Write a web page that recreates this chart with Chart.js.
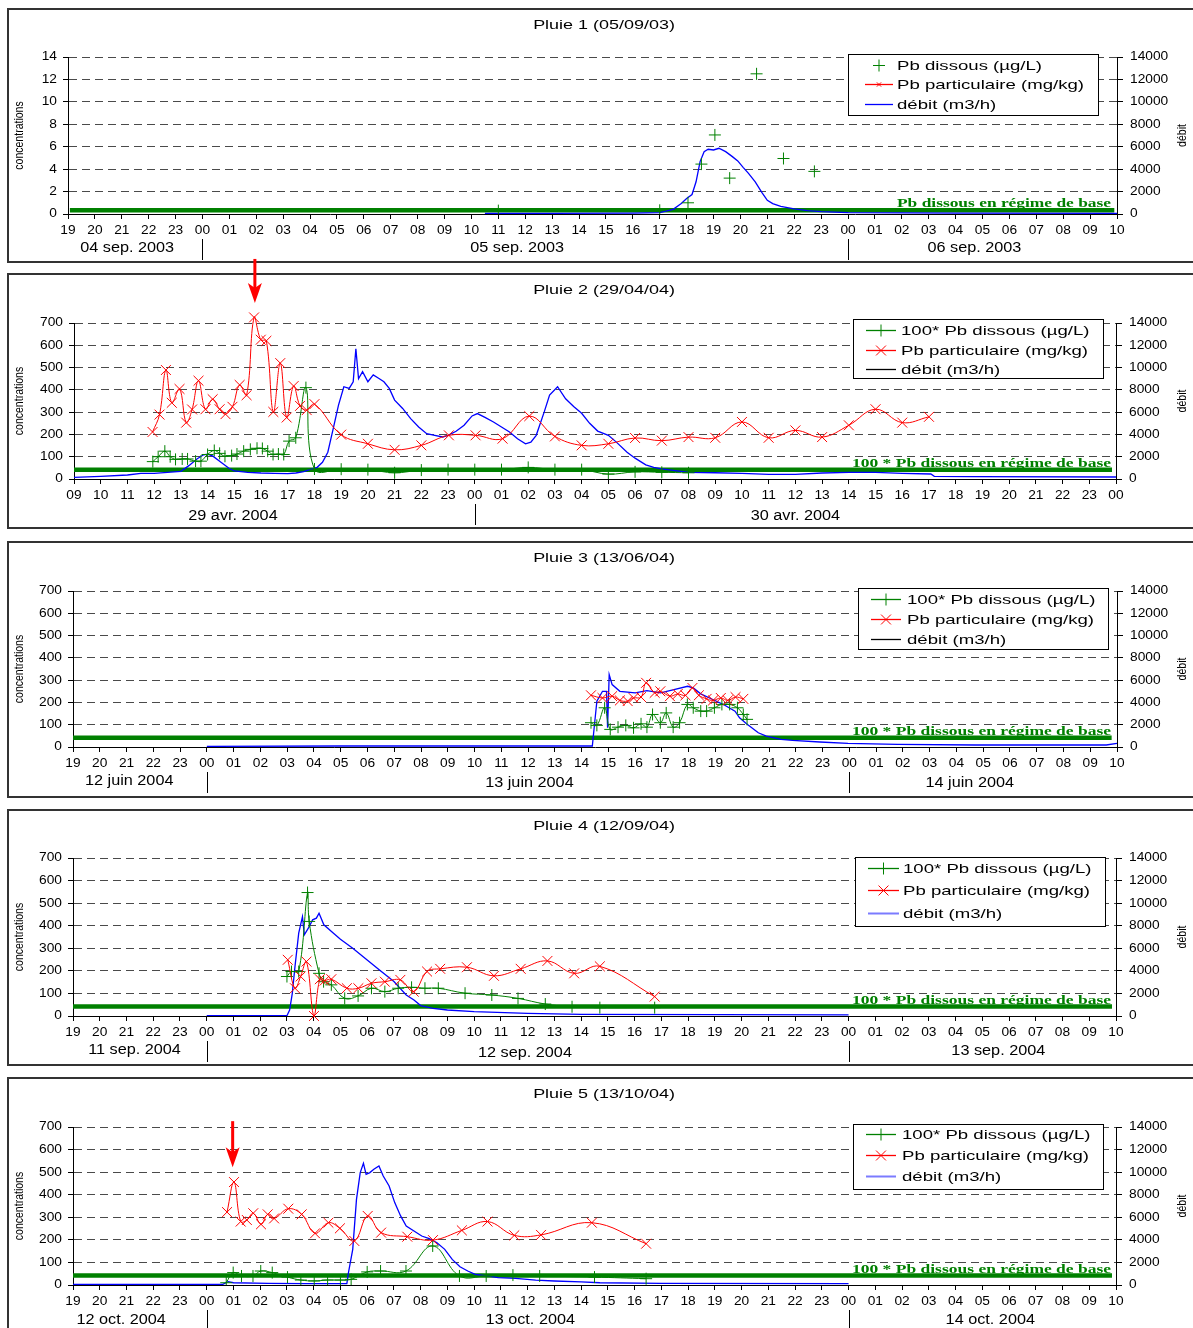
<!DOCTYPE html>
<html><head><meta charset="utf-8">
<script src="https://cdn.jsdelivr.net/npm/chart.js@4/dist/chart.umd.min.js"></script>
<style>
html,body{margin:0;padding:0;background:#fff;overflow:hidden;width:1193px;height:1328px;position:relative;}
.panel{position:absolute;left:7px;width:1200px;border:2px solid #333;box-sizing:border-box;}
canvas{position:absolute;left:0;}
</style></head><body>
<script>
// ---------- tick labels ----------
const hoursFrom19 = ['19','20','21','22','23','00','01','02','03','04','05','06','07','08','09','10','11','12','13','14','15','16','17','18','19','20','21','22','23','00','01','02','03','04','05','06','07','08','09','10'];
const hoursFrom09 = ['09','10','11','12','13','14','15','16','17','18','19','20','21','22','23','00','01','02','03','04','05','06','07','08','09','10','11','12','13','14','15','16','17','18','19','20','21','22','23','00'];
const concTicks14 = [0,2,4,6,8,10,12,14];
const concTicks700 = [0,100,200,300,400,500,600,700];
const debitTicks = [0,2000,4000,6000,8000,10000,12000,14000];

// ---------- texts ----------
const titles = ['Pluie 1 (05/09/03)','Pluie 2 (29/04/04)','Pluie 3 (13/06/04)','Pluie 4 (12/09/04)','Pluie 5 (13/10/04)'];
const dateLabels = [
  ['04 sep. 2003','05 sep. 2003','06 sep. 2003'],
  ['29 avr. 2004','30 avr. 2004'],
  ['12 juin 2004','13 juin 2004','14 juin 2004'],
  ['11 sep. 2004','12 sep. 2004','13 sep. 2004'],
  ['12 oct. 2004','13 oct. 2004','14 oct. 2004']];
const datePositions = [[2.2,16.7,33.7],[5.95,27.0],[2.1,17.05,33.5],[2.3,16.9,34.6],[1.8,17.1,34.3]];
const dayBreaks = [[5,29],[15],[5,29],[5,29],[5,29]];
const legendLabelsP1 = ['Pb dissous (µg/L)','Pb particulaire (mg/kg)','débit (m3/h)'];
const legendLabels = ['100* Pb dissous (µg/L)','Pb particulaire (mg/kg)','débit (m3/h)'];
const baseLabelP1 = 'Pb dissous en régime de base';
const baseLabel = '100 * Pb dissous en régime de base';

// ---------- data (x = hours since first tick) ----------
// Pluie 1
const p1Dissous = [[16,0.3],[22,0.33],[23.05,1.0],[23.55,4.45],[24.05,7.05],[24.6,3.2],[25.6,12.5],[26.6,4.95],[27.75,3.8]];
const p1Particulaire = [];
const p1Debit = [[15.5,60],[18,60],[21,80],[22,120],[22.5,420],[22.8,930],[23,1380],[23.2,1735],[23.35,2870],[23.5,4670],[23.65,5560],[23.8,5770],[24,5710],[24.2,5860],[24.45,5560],[24.7,5115],[24.9,4730],[25.1,4160],[25.3,3620],[25.55,2870],[25.8,1915],[26,1225],[26.2,930],[26.5,690],[26.8,540],[27,450],[27.5,300],[28,210],[29,120],[33,70],[39,60]];
const p1Base = [[0.07,0.33],[38.9,0.33]];
// Pluie 2
const p2Dissous = [[2.95,78],[3.15,100],[3.4,125],[3.6,100],[3.8,88],[4.05,90],[4.25,90],[4.55,80],[4.75,80],[5.0,110],[5.25,128],[5.45,115],[5.65,102],[5.9,105],[6.1,112],[6.35,125],[6.6,133],[6.85,138],[7.05,137],[7.25,125],[7.45,110],[7.65,112],[7.85,110],[8.05,170],[8.3,185],[8.68,410],[9.0,45],[10,44],[11,42],[12,28],[13,40],[14,42],[15,42],[16,42],[17,52],[18,42],[19,42],[20,22],[21,32],[22,30],[23,28]];
const p2Particulaire = [[2.94,211],[3.2,289],[3.44,489],[3.66,342],[3.95,404],[4.2,253],[4.42,312],[4.66,441],[4.92,313],[5.19,358],[5.45,313],[5.67,291],[5.93,324],[6.2,422],[6.46,376],[6.74,725],[6.99,625],[7.2,620],[7.46,301],[7.72,520],[7.96,276],[8.22,417],[8.46,328],[8.71,309],[9.0,336],[10,199],[11,158],[12,131],[13,151],[14.03,196],[15.03,196],[16.04,181],[17.04,282],[18,191],[19,151],[20,158],[21,184],[22,172],[23,188],[24,185],[25,256],[26,185],[27,218],[28,188],[29,241],[30,313],[31,253],[32,279]];
const p2Debit = [[0,150],[1,240],[2,360],[2.5,510],[3,510],[3.5,600],[4,690],[4.3,1200],[4.6,1800],[4.85,2170],[5.0,2230],[5.2,2050],[5.5,1500],[5.8,960],[6.0,720],[6.5,600],[7,540],[7.5,510],[8,480],[8.3,540],[8.6,660],[8.9,900],[9.1,1050],[9.3,1500],[9.5,2400],[9.7,4500],[9.9,6630],[10.1,8280],[10.3,8130],[10.45,8730],[10.55,11690],[10.65,9000],[10.8,9640],[11.0,8730],[11.2,9340],[11.4,9040],[11.6,8730],[11.8,8130],[12.0,7080],[12.3,6330],[12.6,5420],[12.9,4670],[13.2,4070],[13.5,3920],[13.8,3770],[14.0,3920],[14.3,4280],[14.6,4820],[14.9,5660],[15.1,5870],[15.4,5510],[15.7,5120],[16.0,4670],[16.3,4220],[16.6,3610],[16.9,3160],[17.1,3310],[17.3,3920],[17.6,6020],[17.8,7530],[18.1,8280],[18.4,7200],[18.7,6500],[19.0,5900],[19.3,5000],[19.6,4300],[20.0,3920],[20.3,3310],[20.7,2410],[21.0,1870],[21.4,1270],[21.7,1050],[22,900],[23,600],[24,560],[25,510],[26,420],[27,420],[28,540],[29,600],[30,600],[31,510],[32.07,450],[32.2,240],[33.6,210],[39,180]];
const p2Base = [[0,42],[38.85,42]];
// Pluie 3
const p3Dissous = [[19.35,109],[19.57,97],[19.86,176],[20.07,79],[20.36,89],[20.65,97],[20.94,86],[21.22,104],[21.44,89],[21.65,146],[21.94,109],[22.16,153],[22.42,89],[22.66,109],[22.95,191],[23.17,176],[23.45,161],[23.67,161],[23.96,176],[24.24,191],[24.53,191],[24.82,176],[25.04,146],[25.18,124]];
const p3Particulaire = [[19.35,232],[19.78,220],[20.14,228],[20.43,209],[20.72,206],[20.94,220],[21.22,224],[21.41,288],[21.73,243],[21.94,250],[22.3,228],[22.59,238],[22.88,232],[23.14,265],[23.38,232],[23.67,216],[23.91,209],[24.2,220],[24.46,209],[24.75,224],[25.04,216]];
const p3Debit = [[5,60],[10,90],[15,90],[19.4,90],[19.48,2000],[19.57,4110],[19.78,5000],[19.93,5000],[19.97,1730],[20.03,6490],[20.14,5600],[20.43,5000],[21,4860],[21.44,5060],[21.95,4860],[22.45,5150],[22.96,5450],[23.17,5300],[23.45,4770],[23.9,4260],[24.3,3810],[24.73,3220],[24.9,2620],[25.16,2090],[25.6,1280],[25.9,980],[26.45,690],[26.88,600],[27.9,450],[28.95,330],[30.8,240],[33.7,180],[38.6,180],[39,330]];
const p3Base = [[0,42],[38.8,42]];
// Pluie 4
const p4Dissous = [[8.0,175],[8.17,197],[8.44,197],[8.77,547],[8.83,419],[9.2,189],[9.37,152],[9.66,138],[10.16,78],[10.66,89],[11.16,123],[11.66,108],[12.16,123],[12.66,127],[13.16,123],[13.66,123],[14.66,101],[15.66,93],[16.64,78],[17.66,53],[18.66,41],[19.7,37],[21.75,37]];
const p4Particulaire = [[8.03,249],[8.3,123],[8.51,175],[8.73,241],[9.01,0],[9.23,163],[9.41,157],[9.66,163],[10.24,123],[10.67,123],[11.16,145],[11.66,152],[12.24,160],[12.74,108],[13.24,197],[13.73,209],[14.73,216],[15.74,178],[16.74,209],[17.74,244],[18.74,189],[19.7,220],[21.75,86]];
const p4Debit = [[5,30],[8,30],[8.1,530],[8.2,2010],[8.3,4380],[8.44,7340],[8.58,8800],[8.65,7190],[8.8,7780],[8.96,8520],[9.1,8670],[9.2,9100],[9.38,8080],[9.74,7340],[10,6800],[10.46,6010],[11,4970],[11.46,4080],[12,3050],[12.46,1860],[12.75,1420],[13,920],[13.46,680],[14,530],[15,380],[17,240],[19,150],[24,120],[29,100]];
const p4Base = [[0,42],[38.85,42]];
// Pluie 5
const p5Dissous = [[5.73,10],[5.99,55],[6.3,40],[6.73,40],[7.02,62],[7.45,55],[8.02,35],[8.52,22],[9.02,18],[9.52,22],[10.0,22],[10.4,25],[11.0,58],[11.5,62],[12.45,62],[13.45,173],[14.45,40],[15.45,40],[16.45,44],[17.45,40],[19.5,35],[21.43,28]];
const p5Particulaire = [[5.76,323],[6.02,456],[6.27,281],[6.5,288],[6.74,318],[7.03,269],[7.28,313],[7.52,295],[8.05,338],[8.55,313],[9.05,229],[9.55,276],[9.98,251],[10.52,195],[11.02,306],[11.52,232],[12.5,214],[13.46,199],[14.54,242],[15.5,281],[16.5,220],[17.5,222],[19.4,276],[21.43,183]];
const p5Debit = [[0,60],[5.6,60],[5.8,295],[6.0,200],[7.3,150],[8.74,120],[10.24,120],[10.3,1090],[10.46,3160],[10.6,7590],[10.74,9960],[10.86,10780],[10.96,9810],[11.1,9960],[11.25,10250],[11.44,10550],[11.6,9660],[11.82,8770],[12.03,7300],[12.25,6120],[12.46,5230],[12.75,4790],[13.04,4340],[13.32,4110],[13.61,3750],[13.9,3160],[14.18,2270],[14.47,1620],[14.76,1240],[15.04,945],[15.47,800],[15.9,650],[16.55,590],[17.3,440],[18,355],[19,270],[19.7,200],[22,150],[29,120]];
const p5Base = [[0,42],[38.85,42]];

// ---------- styles / layout ----------
const SANS = '"Liberation Sans", Arial, Helvetica, sans-serif';
const SERIF = '"Liberation Serif", "Times New Roman", serif';
const GREEN = '#008000', RED = '#ff0000', BLUE = '#0000ff';
const PAGE_W = 1193;
const TOP_FIX = 1, BOTTOM_FIX = 2;

const panels = [
  { T:8, H:255, area:{l:68,r:1117,t:56,b:212}, hours:hoursFrom19, left:concTicks14, yMax:14,
    title:titles[0], dates:dateLabels[0], datePos:datePositions[0], dateDy:[34,34,34], breaks:dayBreaks[0],
    dis:p1Dissous, disLine:false, disR:6, part:p1Particulaire, deb:p1Debit, base:p1Base,
    baseText:baseLabelP1, baseW:214,
    legend:{x1:848,y1:54,x2:1098,y2:115,rows:[65,84,104],s1:865,s2:893,tx:897,labels:legendLabelsP1,
      items:[{color:GREEN,line:false,mk:'cross',r:6},{color:RED,line:true,mk:'crossRot',r:3},{color:BLUE,line:true}]},
    arrow:null },
  { T:273, H:256, area:{l:74,r:1116,t:322,b:477}, hours:hoursFrom09, left:concTicks700, yMax:700,
    title:titles[1], dates:dateLabels[1], datePos:datePositions[1], dateDy:[37,37], breaks:dayBreaks[1],
    dis:p2Dissous, disLine:true, disR:6, part:p2Particulaire, deb:p2Debit, base:p2Base,
    baseText:baseLabel, baseW:259,
    legend:{x1:853,y1:319,x2:1103,y2:378,rows:[330,350,369],s1:866,s2:896,tx:901,labels:legendLabels,
      items:[{color:GREEN,line:true,mk:'cross',r:6},{color:RED,line:true,mk:'crossRot',r:7},{color:'#000',line:true}]},
    arrow:{t:6.77, tip:790, len:44} },
  { T:541, H:257, area:{l:73,r:1117,t:590,b:745}, hours:hoursFrom19, left:concTicks700, yMax:700,
    title:titles[2], dates:dateLabels[2], datePos:datePositions[2], dateDy:[34,36,36], breaks:dayBreaks[2],
    dis:p3Dissous, disLine:true, disR:6, part:p3Particulaire, deb:p3Debit, base:p3Base,
    baseText:baseLabel, baseW:259,
    legend:{x1:858,y1:588,x2:1108,y2:649,rows:[599,619,639],s1:871,s2:901,tx:907,labels:legendLabels,
      items:[{color:GREEN,line:true,mk:'cross',r:6},{color:RED,line:true,mk:'crossRot',r:7},{color:'#000',line:true}]},
    arrow:null },
  { T:809, H:257, area:{l:73,r:1116,t:857,b:1014}, hours:hoursFrom19, left:concTicks700, yMax:700,
    title:titles[3], dates:dateLabels[3], datePos:datePositions[3], dateDy:[34,37,35], breaks:dayBreaks[3],
    dis:p4Dissous, disLine:true, disR:6, part:p4Particulaire, deb:p4Debit, base:p4Base,
    baseText:baseLabel, baseW:259,
    legend:{x1:855,y1:857,x2:1105,y2:926,rows:[868,890,913],s1:868,s2:899,tx:903,labels:legendLabels,
      items:[{color:GREEN,line:true,mk:'cross',r:6},{color:RED,line:true,mk:'crossRot',r:7},{color:'#7b7bff',line:true,w:2}]},
    arrow:null },
  { T:1077, H:263, area:{l:73,r:1116,t:1126,b:1283}, hours:hoursFrom19, left:concTicks700, yMax:700,
    title:titles[4], dates:dateLabels[4], datePos:datePositions[4], dateDy:[35,35,35], breaks:dayBreaks[4],
    dis:p5Dissous, disLine:true, disR:6, part:p5Particulaire, deb:p5Debit, base:p5Base,
    baseText:baseLabel, baseW:259,
    legend:{x1:853,y1:1124,x2:1103,y2:1189,rows:[1134,1155,1176],s1:866,s2:896,tx:902,labels:legendLabels,
      items:[{color:GREEN,line:true,mk:'cross',r:6},{color:RED,line:true,mk:'crossRot',r:7},{color:'#7b7bff',line:true,w:2}]},
    arrow:{t:5.97, tip:522, len:46} }
];

function sText(ctx, txt, x, y, font, sx, align, base, color) {
  ctx.save();
  ctx.font = font; ctx.fillStyle = color || '#000';
  ctx.textAlign = align || 'left'; ctx.textBaseline = base || 'middle';
  ctx.translate(x, y); ctx.scale(sx, 1);
  ctx.fillText(txt, 0, 0);
  ctx.restore();
}
function vText(ctx, txt, x, y, font, sx) {
  ctx.save();
  ctx.font = font; ctx.fillStyle = '#000';
  ctx.textAlign = 'center'; ctx.textBaseline = 'middle';
  ctx.translate(x, y); ctx.rotate(-Math.PI/2); ctx.scale(1, sx);
  ctx.fillText(txt, 0, 0);
  ctx.restore();
}
function marker(ctx, type, x, y, r, color) {
  ctx.save(); ctx.strokeStyle = color; ctx.lineWidth = 1; ctx.beginPath();
  if (type === 'cross') { ctx.moveTo(x-r,y); ctx.lineTo(x+r,y); ctx.moveTo(x,y-r); ctx.lineTo(x,y+r); }
  else { const d = r*0.7071; ctx.moveTo(x-d,y-d); ctx.lineTo(x+d,y+d); ctx.moveTo(x-d,y+d); ctx.lineTo(x+d,y-d); }
  ctx.stroke(); ctx.restore();
}

const cfgMap = new Map();
const TICKF = '12.5px ' + SANS;

Chart.register({
  id: 'decor',
  afterDraw(chart) {
    const c = cfgMap.get(chart.canvas); if (!c) return;
    const ctx = chart.ctx, off = c.cTop;
    const xs = chart.scales.x, yl = chart.scales.yL, yr = chart.scales.yR, ca = chart.chartArea;
    // tick labels
    xs.ticks.forEach(t => sText(ctx, c.hours[t.value], xs.getPixelForValue(t.value), ca.bottom + 17, TICKF, 1.1, 'center'));
    yl.ticks.forEach(t => sText(ctx, String(t.value), ca.left - 11, yl.getPixelForValue(t.value), TICKF, 1.1, 'right'));
    yr.ticks.forEach(t => sText(ctx, String(t.value), ca.right + 13, yr.getPixelForValue(t.value), TICKF, 1.1, 'left'));
    // title
    sText(ctx, c.title, 604, c.T + 17 - off, '13.5px ' + SANS, 1.33, 'center');
    // axis titles
    const midY = (ca.top + ca.bottom) / 2;
    vText(ctx, 'concentrations', 20, midY, '10.5px ' + SANS, 1.2);
    vText(ctx, 'débit', 1183, midY, '10.5px ' + SANS, 1.2);
    // date labels and day separators
    c.dates.forEach((d, i) => sText(ctx, d, xs.getPixelForValue(c.datePos[i]), ca.bottom + c.dateDy[i], '14px ' + SANS, 1.16, 'center'));
    ctx.save(); ctx.strokeStyle = '#000'; ctx.lineWidth = 1;
    c.breaks.forEach(b => { const x = Math.round(xs.getPixelForValue(b)) + 0.5; ctx.beginPath(); ctx.moveTo(x, ca.bottom + 25); ctx.lineTo(x, ca.bottom + 46); ctx.stroke(); });
    ctx.restore();
    // baseline label
    ctx.save();
    const bf = 'bold 12.5px ' + SERIF; ctx.font = bf;
    const bw = ctx.measureText(c.baseText).width;
    const by = yl.getPixelForValue(c.base[0][1]);
    sText(ctx, c.baseText, 1111, by - 3, bf, c.baseW / bw, 'right', 'alphabetic', GREEN);
    ctx.restore();
    // legend
    const L = c.legend;
    ctx.save();
    ctx.fillStyle = '#fff'; ctx.fillRect(L.x1, L.y1 - off, L.x2 - L.x1, L.y2 - L.y1);
    ctx.strokeStyle = '#000'; ctx.lineWidth = 1;
    ctx.strokeRect(L.x1 + 0.5, L.y1 - off + 0.5, L.x2 - L.x1, L.y2 - L.y1);
    ctx.font = '13px ' + SANS;
    const lsx = 187 / ctx.measureText('Pb particulaire (mg/kg)').width;
    L.items.forEach((it, i) => {
      const y = L.rows[i] - off;
      if (it.line) { ctx.strokeStyle = it.color; ctx.lineWidth = it.w || 1.3; ctx.beginPath(); ctx.moveTo(L.s1, y + 0.5); ctx.lineTo(L.s2, y + 0.5); ctx.stroke(); }
      if (it.mk) marker(ctx, it.mk, (L.s1 + L.s2) / 2, y + 0.5, it.r, it.color);
      sText(ctx, L.labels[i], L.tx, y + 1, '13px ' + SANS, lsx, 'left');
    });
    ctx.restore();
    // arrow annotation
    if (c.arrow) {
      const ax = xs.getPixelForValue(c.arrow.t);
      const tip = yl.getPixelForValue(c.arrow.tip);
      const top = tip - c.arrow.len;
      ctx.save(); ctx.fillStyle = RED;
      ctx.fillRect(ax - 1.5, top, 3, c.arrow.len - 14);
      ctx.beginPath();
      ctx.moveTo(ax, tip); ctx.lineTo(ax - 7, tip - 20); ctx.lineTo(ax, tip - 15); ctx.lineTo(ax + 7, tip - 20); ctx.closePath();
      ctx.fill(); ctx.restore();
    }
  }
});

const pts = a => a.map(([x, y]) => ({x, y}));

panels.forEach(p => {
  const div = document.createElement('div');
  div.className = 'panel'; div.style.top = p.T + 'px'; div.style.height = p.H + 'px';
  document.body.appendChild(div);
});

panels.forEach(p => {
  const cTop = p.T - 20, cH = p.H + 24;
  const cv = document.createElement('canvas');
  cv.width = PAGE_W; cv.height = cH;
  cv.style.top = cTop + 'px'; cv.style.width = PAGE_W + 'px'; cv.style.height = cH + 'px';
  document.body.appendChild(cv);
  cfgMap.set(cv, Object.assign({cTop}, p));
  const ds = [
    {label:'base', data:pts(p.base), yAxisID:'yL', borderColor:GREEN, borderWidth:4.5, pointRadius:0, order:3, tension:0},
    {label:'débit (m3/h)', data:pts(p.deb), yAxisID:'yR', borderColor:BLUE, borderWidth:1.3, pointRadius:0, order:2, tension:0},
    {label:'Pb dissous', data:pts(p.dis), yAxisID:'yL', borderColor:GREEN, borderWidth:1, showLine:p.disLine,
      pointStyle:'cross', pointRadius:p.disR, pointBorderWidth:1, pointBorderColor:GREEN, pointBackgroundColor:GREEN, order:1, tension:0.4},
    {label:'Pb particulaire (mg/kg)', data:pts(p.part), yAxisID:'yL', borderColor:RED, borderWidth:1, clip:false,
      pointStyle:'crossRot', pointRadius:7, pointBorderWidth:1, pointBorderColor:RED, pointBackgroundColor:RED, order:0, tension:0.4}
  ];
  new Chart(cv, {
    type:'line',
    data:{datasets:ds},
    options:{
      responsive:false, animation:false, devicePixelRatio:1, events:[],
      layout:{padding:{top:p.area.t - cTop + TOP_FIX, left:0, right:0, bottom:0}},
      plugins:{legend:{display:false}, tooltip:{enabled:false}, title:{display:false}},
      scales:{
        x:{type:'linear', position:'bottom', min:0, max:39, ticks:{display:false},
          afterBuildTicks:s => { s.ticks = p.hours.map((h, i) => ({value:i})); },
          afterFit:s => { s.height = cH - (p.area.b - cTop) - BOTTOM_FIX; },
          grid:{drawOnChartArea:false, drawTicks:true, tickLength:5, tickColor:'#000'},
          border:{color:'#000', width:1}},
        yL:{type:'linear', position:'left', min:0, max:p.yMax, ticks:{display:false},
          afterBuildTicks:s => { s.ticks = p.left.map(v => ({value:v})); },
          afterFit:s => { s.width = p.area.l; },
          grid:{color:cx => (cx.tick && cx.tick.value === 0) ? 'rgba(0,0,0,0)' : '#4a4a4a', lineWidth:1, drawTicks:true, tickLength:5, tickColor:'#000'},
          border:{color:'#000', width:1, dash:[8,5]}},
        yR:{type:'linear', position:'right', min:0, max:14000, ticks:{display:false},
          afterBuildTicks:s => { s.ticks = debitTicks.map(v => ({value:v})); },
          afterFit:s => { s.width = PAGE_W - p.area.r; },
          grid:{drawOnChartArea:false, drawTicks:true, tickLength:6, tickColor:'#000'},
          border:{color:'#000', width:1}}
      }
    }
  });
});
</script>
</body></html>
